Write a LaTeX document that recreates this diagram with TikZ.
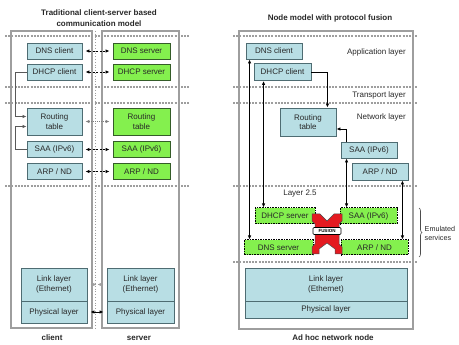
\documentclass[tikz,border=0pt]{standalone}
\usepackage{fontspec}
\setsansfont{Liberation Sans}
\usetikzlibrary{arrows.meta, decorations.pathreplacing}
\definecolor{palteal}{RGB}{78,108,114}
\definecolor{paltealfill}{RGB}{184,222,228}
\definecolor{palgreen}{RGB}{52,92,40}
\definecolor{palgreenfill}{RGB}{132,240,78}
\definecolor{palgray}{RGB}{158,158,158}
\definecolor{palred}{RGB}{228,26,32}
\definecolor{palink}{RGB}{40,40,40}
\tikzset{
  layerbox/.style={
    draw=palteal,
    fill=paltealfill,
    line width=0.9pt,
    align=center,
    inner sep=0pt,
    minimum width=55pt,
    minimum height=16pt,
    font=\fontsize{8}{9.5}\selectfont\sffamily,
    text=palink
  },
  servbox/.style={layerbox, draw=palgreen, fill=palgreenfill},
  emubox/.style={layerbox, draw=black, fill=palgreenfill, dash pattern=on 1.6pt off 1pt, line width=1pt},
  frame/.style={draw=palgray, line width=1.2pt},
  sepline/.style={draw=palgray, line width=1.2pt, dash pattern=on 2pt off 1.2pt},
  arrow/.style={-{Latex[length=4pt,width=3.5pt]}, line width=0.8pt},
  twoway/.style={{Latex[length=4pt,width=3.5pt]}-{Latex[length=4pt,width=3.5pt]}, line width=0.8pt},
  peer/.style={twoway, dash pattern=on 2pt off 1.5pt, shorten <=3pt, shorten >=3pt},
  plaintext/.style={font=\fontsize{8}{9.5}\selectfont\sffamily, text=palink, inner sep=0pt},
  titletext/.style={font=\fontsize{8}{10.5}\selectfont\sffamily\bfseries, text=palink, align=center, inner sep=0pt}
}
\begin{document}
\begin{tikzpicture}[x=1pt,y=-1pt]
  \useasboundingbox (0,0) rectangle (459,345);

  % traditional client-server model
  \node[titletext] (lefttitle) at (99,18) {Traditional client-server based\\communication model};
  \draw[frame] (11,31) rectangle (92,328);
  \draw[frame] (102,31) rectangle (179,328);
  \draw[palgray, line width=0.8pt, dotted] (95,31) -- (95,328);
  \foreach \y in {36,87,103,186}
    \draw[sepline] (5,\y) -- (190,\y);

  \node[layerbox] (dnsc) at (54.5,51) {DNS client};
  \node[layerbox] (dhcpc) at (54.5,72) {DHCP client};
  \node[layerbox, minimum height=27pt] (rtc) at (54.5,121.5) {Routing\\table};
  \node[layerbox] (saac) at (54.5,149.5) {SAA (IPv6)};
  \node[layerbox] (arpc) at (54.5,171.5) {ARP / ND};
  \node[servbox, minimum width=57pt] (dnss) at (141.5,51) {DNS server};
  \node[servbox, minimum width=57pt] (dhcps) at (141.5,72) {DHCP server};
  \node[servbox, minimum width=57pt, minimum height=27pt] (rts) at (141.5,121.5) {Routing\\table};
  \node[servbox, minimum width=57pt] (saas) at (141.5,149.5) {SAA (IPv6)};
  \node[servbox, minimum width=57pt] (arps) at (141.5,171.5) {ARP / ND};
  \node[layerbox, minimum width=66pt, minimum height=33pt] (linkc) at (54,284.5) {Link layer\\(Ethernet)};
  \node[layerbox, minimum width=66pt, minimum height=22pt] (physc) at (54,312) {Physical layer};
  \node[layerbox, minimum width=67pt, minimum height=33pt] (links) at (140.5,284.5) {Link layer\\(Ethernet)};
  \node[layerbox, minimum width=67pt, minimum height=22pt] (physs) at (140.5,312) {Physical layer};
  \node[plaintext, font=\fontsize{8}{9.5}\selectfont\sffamily\bfseries] (clientlbl) at (52,338) {client};
  \node[plaintext, font=\fontsize{8}{9.5}\selectfont\sffamily\bfseries] (serverlbl) at (139,338) {server};

  \draw[peer] (dnsc) -- (dnss);
  \draw[peer] (dhcpc) -- (dhcps);
  \draw[peer, palgray!80!black, dash pattern=on 1pt off 1pt] (rtc) -- (rts);
  \draw[peer] (saac) -- (saas);
  \draw[peer] (arpc) -- (arps);
  \draw[peer, palgray, dash pattern=on 2pt off 2pt] (linkc) -- (links);
  \draw[twoway, shorten <=3pt, shorten >=3pt] (physc) -- (physs);
  \draw[arrow, draw=black!65] (dhcpc.west) -- ++(-11,0) |- ([yshift=5pt]rtc.west);
  \draw[arrow, draw=black!65] (saac.west) -- ++(-11,0) |- ([yshift=-5pt]rtc.west);

  % node model with protocol fusion
  \node[titletext] (righttitle) at (330,18) {Node model with protocol fusion};
  \draw[frame] (239,31) rectangle (413,329);
  \foreach \y in {36,87,103,186,262}
    \draw[sepline] (233,\y) -- (418,\y);
  \node[plaintext, anchor=east] (applbl) at (406,52) {Application layer};
  \node[plaintext, anchor=east] (translbl) at (406,95) {Transport layer};
  \node[plaintext, anchor=east] (netlbl) at (406,117) {Network layer};
  \node[plaintext] (l25lbl) at (300,194) {Layer 2.5};

  \node[layerbox, minimum width=56pt] (dnsn) at (274,51) {DNS client};
  \node[layerbox, minimum width=57pt, minimum height=17pt] (dhcpn) at (282.5,72) {DHCP client};
  \node[layerbox, minimum width=56pt, minimum height=28pt] (rtn) at (308,122) {Routing\\table};
  \node[layerbox, minimum width=56pt] (saan) at (369,150) {SAA (IPv6)};
  \node[layerbox, minimum width=56pt, minimum height=17pt] (arpn) at (380,171.5) {ARP / ND};

  \node[emubox, minimum width=60pt] (dhcpe) at (285,216) {DHCP server};
  \node[emubox, minimum width=57pt] (saae) at (368.5,216) {SAA (IPv6)};
  \node[emubox, minimum width=69pt, minimum height=15pt] (dnse) at (278.5,247.5) {DNS server};
  \node[emubox, minimum width=67pt, minimum height=15pt] (arpe) at (374.5,247.5) {ARP / ND};

  \node[layerbox, minimum width=162pt, minimum height=33pt] (linkn) at (326,284.5) {Link layer\\(Ethernet)};
  \node[layerbox, minimum width=162pt, minimum height=17pt] (physn) at (326,309.5) {Physical layer};
  \node[plaintext, font=\fontsize{8}{9.5}\selectfont\sffamily\bfseries] (nodelbl) at (333,338) {Ad hoc network node};

  \draw[twoway] ([xshift=4pt]dnsn.south west) -- ([xshift=4pt]dnsn.south west |- dnse.north);
  \draw[twoway] ([xshift=10pt]dhcpn.south west) -- ([xshift=10pt]dhcpn.south west |- dhcpe.north);
  \draw[arrow] (dhcpn.east) -| ([xshift=-9pt]rtn.north east);
  \draw[arrow] ([xshift=6pt]saan.north west) |- ([yshift=-7pt]rtn.east);
  \draw[twoway] ([xshift=6pt]saan.south west) -- ([xshift=6pt]saan.south west |- saae.north);
  \draw[twoway] ([xshift=-6pt]arpn.south east) -- ([xshift=-6pt]arpn.south east |- arpe.north);

  % fusion mark
  \filldraw[fill=palred, draw=black!70, line width=0.5pt]
    (312,214) -- (320,214) -- (327,221) -- (334,214) -- (342,214) -- (342,221) -- (339,224)
    -- (339,244) -- (342,247) -- (342,254) -- (335,254) -- (335,249) -- (327,243) -- (319,249)
    -- (319,254) -- (312,254) -- (312,247) -- (315,244) -- (315,224) -- (312,221) -- cycle;
  \node[draw=black, fill=white, rounded corners=1pt, line width=0.6pt, inner sep=0pt,
        minimum width=28pt, minimum height=7pt, font=\fontsize{4.5}{5}\selectfont\sffamily\bfseries]
        (fusion) at (327,231) {FUSION};

  \coordinate (embtop) at (419,208);
  \coordinate (embbot) at (419,257);
  \draw[decorate, decoration={brace, amplitude=3pt}, black!70, line width=0.6pt] (embtop) -- (embbot);
  \node[plaintext, anchor=west, align=left, font=\fontsize{7.2}{9}\selectfont\sffamily] (emulbl) at (424.5,233) {Emulated\\services};
\end{tikzpicture}
\end{document}
